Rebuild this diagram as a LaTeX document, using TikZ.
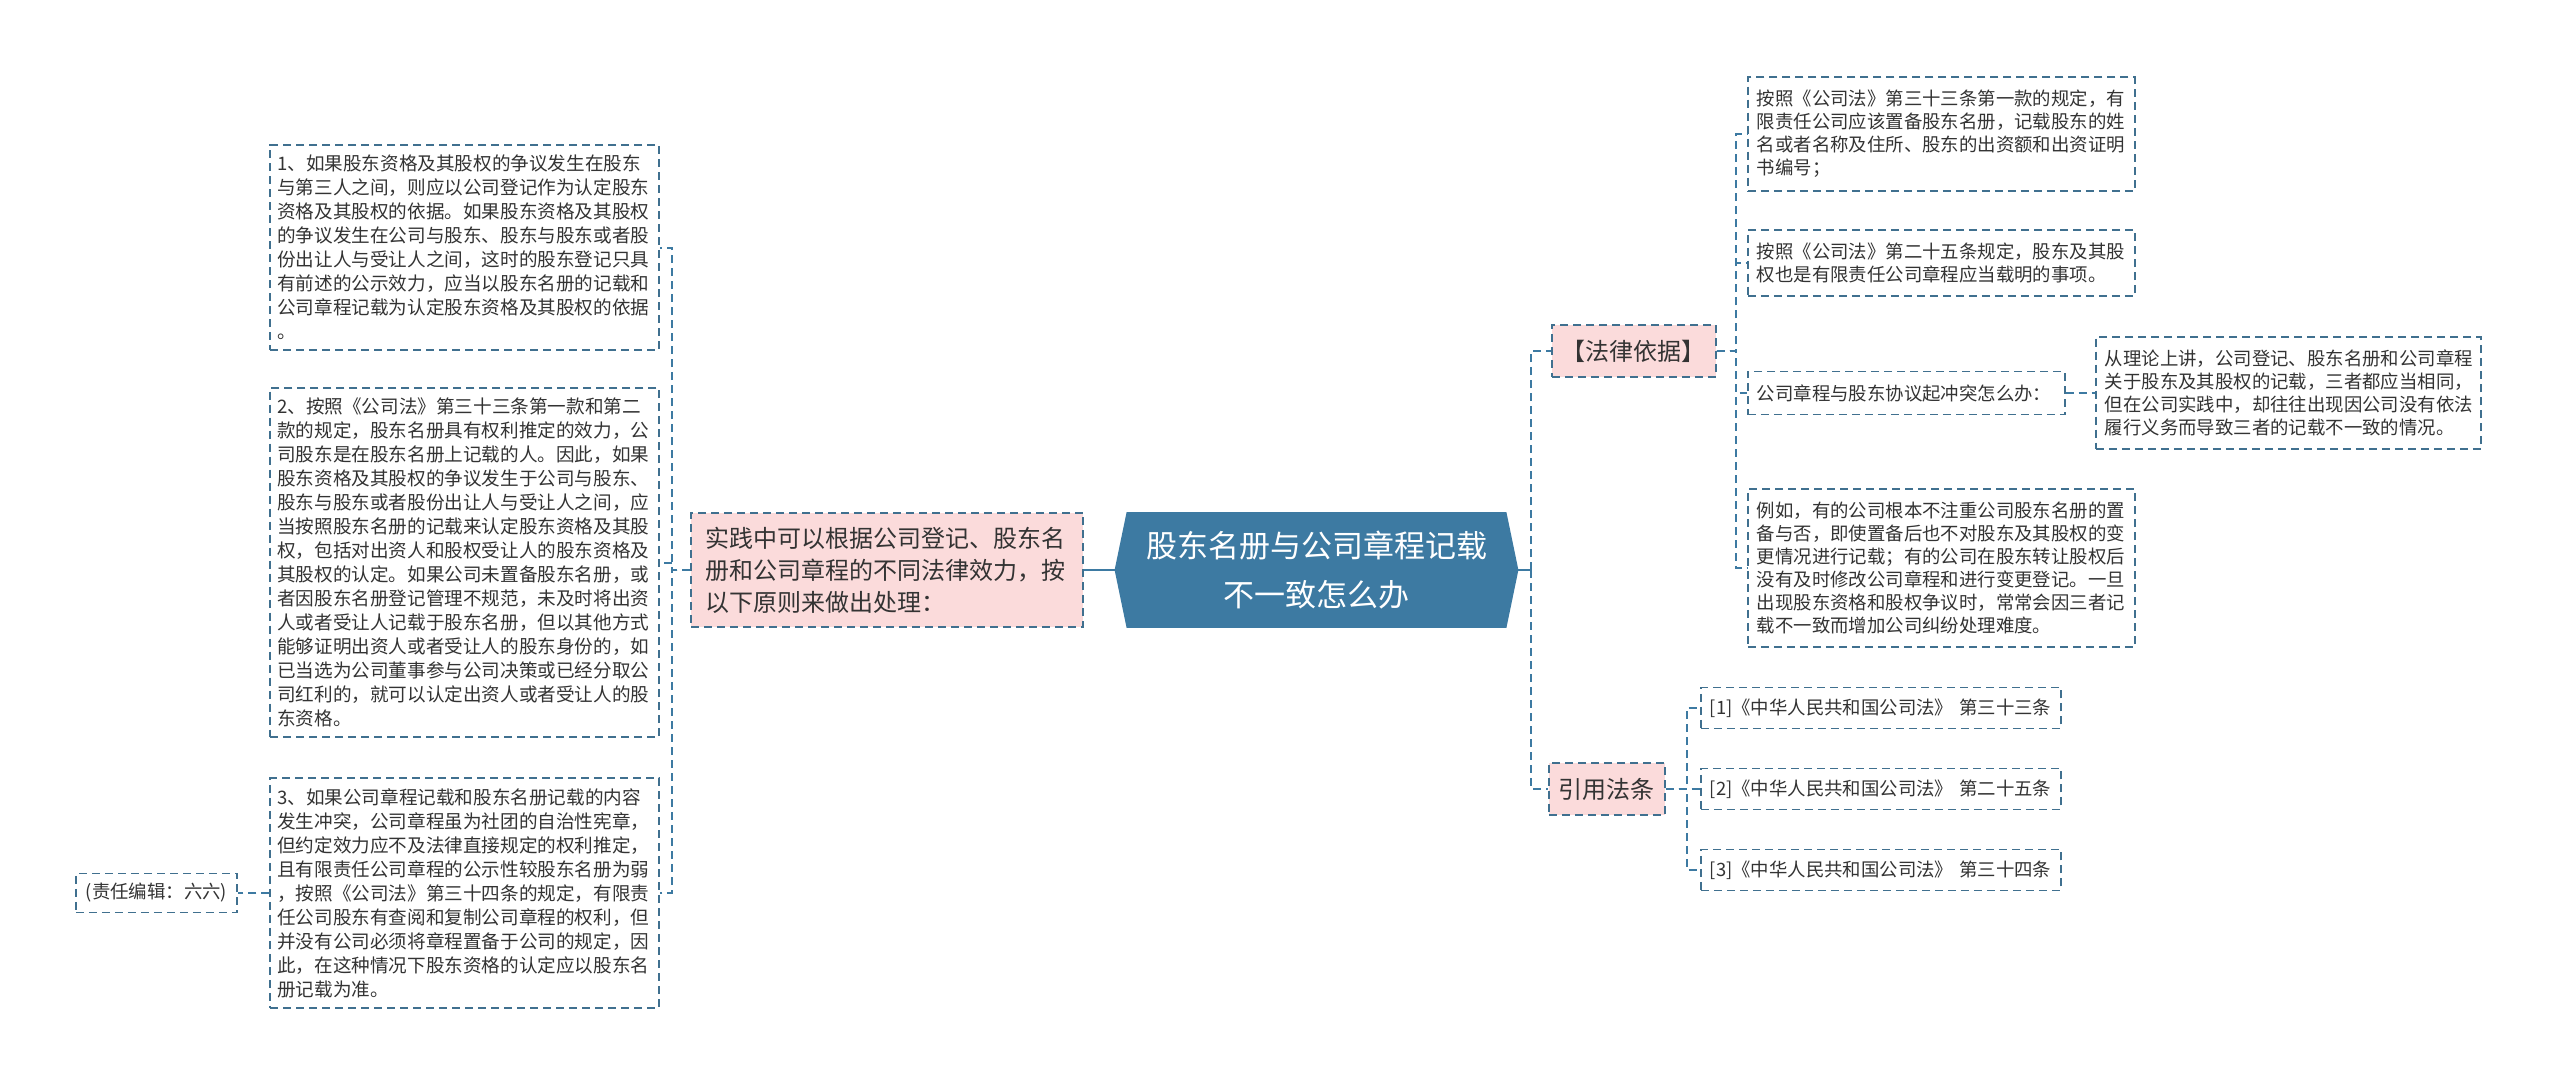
\documentclass[tikz,border=0pt]{standalone}
\usepackage{fontspec}
\setmainfont{Noto Sans CJK SC}
\usepackage{tikz}
\usetikzlibrary{backgrounds,positioning}
\definecolor{rootblue}{HTML}{3D7AA2}
\definecolor{linkblue}{HTML}{3D7AA2}
\definecolor{boxline}{HTML}{40708F}
\definecolor{boxpink}{HTML}{FBDBDB}
\definecolor{textgray}{HTML}{333333}

\begin{document}
\begin{tikzpicture}[x=.5pt,y=-.5pt,
    link/.style={draw=linkblue,line width=1pt,dash pattern=on 4pt off 2.5pt},
    rootlink/.style={draw=linkblue,line width=1.2pt},
    box/.style={draw=boxline,line width=.8pt,dash pattern=on 4pt off 2.5pt,fill=white,text=textgray,align=left},
    leftleaf/.style={box,anchor=east,text width=187.5pt,inner xsep=3.5pt,inner ysep=5pt,font=\fontsize{9.3}{12}\selectfont},
    rightleaf/.style={box,anchor=west,inner xsep=4.5pt,inner ysep=6.5pt,font=\fontsize{9.2}{11.5}\selectfont},
    branch/.style={box,fill=boxpink,inner xsep=5pt,inner ysep=7.5pt,font=\fontsize{12}{16}\selectfont}]
    \useasboundingbox (0,0) rectangle (2560,1088);

    % centre
    \node[minimum width=189.5pt,minimum height=57.5pt,inner sep=0pt,align=center,text=white,
        font=\fontsize{15.5}{24.5}\selectfont] (root) at (1316.5,570) {股东名册与公司章程记载\\不一致怎么办};
    \begin{scope}[on background layer]
        \fill[rootblue] (root.north west) -- (root.north east) -- ([xshift=6pt]root.east) -- (root.south east)
            -- (root.south west) -- ([xshift=-6pt]root.west) -- cycle;
    \end{scope}

    % left side
    \node[branch,anchor=east,text width=182pt,inner xsep=7pt,inner ysep=7pt] (practice) at (1084,570)
        {实践中可以根据公司登记、股东名\\册和公司章程的不同法律效力，按\\以下原则来做出处理：};
    \node[leftleaf] (rule1) at (660,247.5) {1、如果股东资格及其股权的争议发生在股东\\与第三人之间，则应以公司登记作为认定股东\\资格及其股权的依据。如果股东资格及其股权\\的争议发生在公司与股东、股东与股东或者股\\份出让人与受让人之间，这时的股东登记只具\\有前述的公示效力，应当以股东名册的记载和\\公司章程记载为认定股东资格及其股权的依据\\。};
    \node[leftleaf] (rule2) at (660,562.5) {2、按照《公司法》第三十三条第一款和第二\\款的规定，股东名册具有权利推定的效力，公\\司股东是在股东名册上记载的人。因此，如果\\股东资格及其股权的争议发生于公司与股东、\\股东与股东或者股份出让人与受让人之间，应\\当按照股东名册的记载来认定股东资格及其股\\权，包括对出资人和股权受让人的股东资格及\\其股权的认定。如果公司未置备股东名册，或\\者因股东名册登记管理不规范，未及时将出资\\人或者受让人记载于股东名册，但以其他方式\\能够证明出资人或者受让人的股东身份的，如\\已当选为公司董事参与公司决策或已经分取公\\司红利的，就可以认定出资人或者受让人的股\\东资格。};
    \node[leftleaf] (rule3) at (660,893) {3、如果公司章程记载和股东名册记载的内容\\发生冲突，公司章程虽为社团的自治性宪章，\\但约定效力应不及法律直接规定的权利推定，\\且有限责任公司章程的公示性较股东名册为弱\\，按照《公司法》第三十四条的规定，有限责\\任公司股东有查阅和复制公司章程的权利，但\\并没有公司必须将章程置备于公司的规定，因\\此，在这种情况下股东资格的认定应以股东名\\册记载为准。};
    \node[rightleaf,anchor=east,inner xsep=5pt,inner ysep=5pt] (editor) at (238,893) {(责任编辑：六六)};

    % right side
    \node[branch,anchor=west] (basis) at (1551,351) {【法律依据】};
    \node[branch,anchor=west] (cited) at (1548,789) {引用法条};
    \node[rightleaf,text width=184.5pt] (law1) at (1747,134) {按照《公司法》第三十三条第一款的规定，有\\限责任公司应该置备股东名册，记载股东的姓\\名或者名称及住所、股东的出资额和出资证明\\书编号；};
    \node[rightleaf,text width=184.5pt] (law2) at (1747,263) {按照《公司法》第二十五条规定，股东及其股\\权也是有限责任公司章程应当载明的事项。};
    \node[rightleaf,text width=149.5pt] (conflict) at (1747,393) {公司章程与股东协议起冲突怎么办：};
    \node[rightleaf,text width=183.5pt] (theory) at (2095,393) {从理论上讲，公司登记、股东名册和公司章程\\关于股东及其股权的记载，三者都应当相同，\\但在公司实践中，却往往出现因公司没有依法\\履行义务而导致三者的记载不一致的情况。};
    \node[rightleaf,text width=184.5pt] (example) at (1747,568) {例如，有的公司根本不注重公司股东名册的置\\备与否，即使置备后也不对股东及其股权的变\\更情况进行记载；有的公司在股东转让股权后\\没有及时修改公司章程和进行变更登记。一旦\\出现股东资格和股权争议时，常常会因三者记\\载不一致而增加公司纠纷处理难度。};
    \foreach \art/\y [count = \i] in {三十三条/708,二十五条/789,三十四条/870}
    {
        \node[rightleaf,text width=171pt,inner ysep=5.5pt] (art\i) at (1700,\y) {[\i]《中华人民共和国公司法》 第\art};
    }

    % connectors
    \draw[rootlink] (root.west) -- (practice.east);
    \draw[rootlink] (root.east) -- ++(25,0) coordinate (rightjoin);
    \foreach \t in {basis,cited}
        \draw[link] (rightjoin) |- (\t.west);
    \foreach \t in {rule1,rule2,rule3}
        \draw[link] (practice.west) -- ++(-18,0) |- (\t.east);
    \foreach \t in {law1,law2,conflict,example}
        \draw[link] (basis.east) -- ++(19,0) |- (\t.west);
    \foreach \t in {art1,art2,art3}
        \draw[link] (cited.east) -- ++(21,0) |- (\t.west);
    \draw[link] (conflict.east) -- (theory.west);
    \draw[link] (rule3.west) -- (editor.east);
\end{tikzpicture}
\end{document}
